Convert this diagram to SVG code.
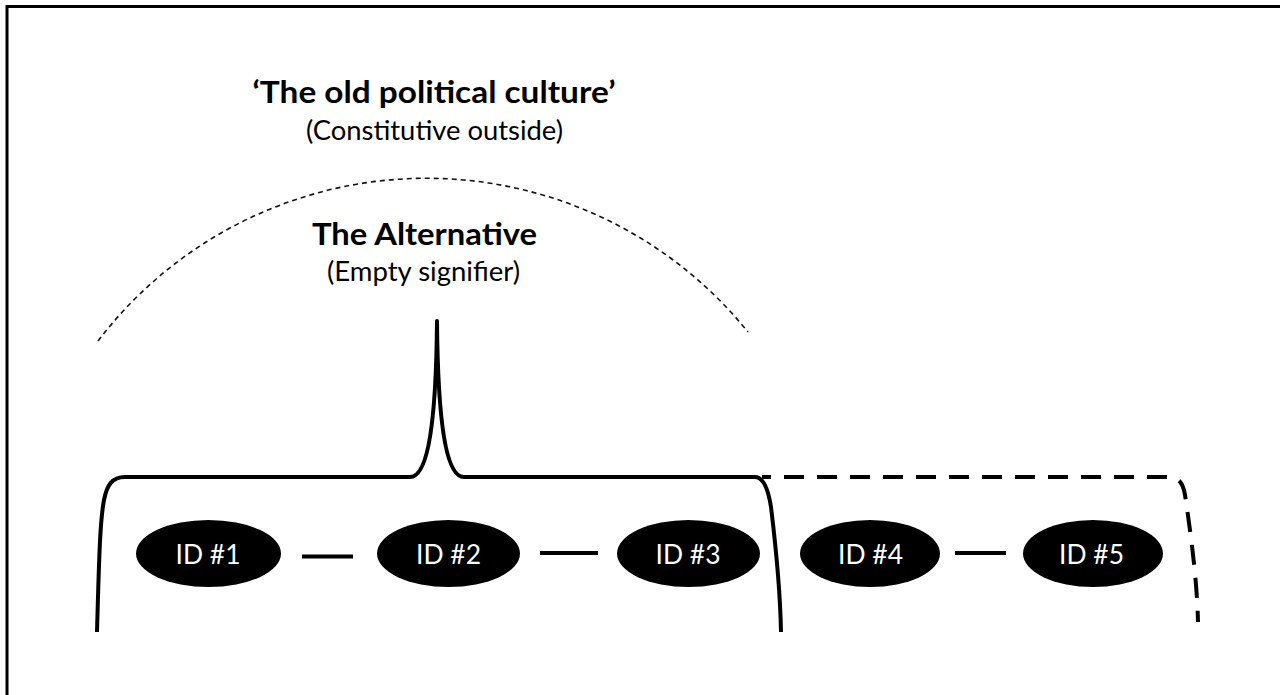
<svg xmlns="http://www.w3.org/2000/svg" width="1280" height="695" viewBox="0 0 1280 695">
  <style>
    .frame { fill: none; stroke: #000; stroke-width: 3; }
    .arc { fill: none; stroke: #111; stroke-width: 1.6; stroke-dasharray: 5 4; }
    .bracket { fill: none; stroke: #000; stroke-width: 4; stroke-linejoin: round; }
    .bracket-open { fill: none; stroke: #000; stroke-width: 4; stroke-dasharray: 20 13; stroke-dashoffset: 11; }
    .link { stroke: #000; stroke-width: 4; }
    .node ellipse { fill: #000; }
    .node text { fill: #fff; font-family: Lato, "Open Sans", "Liberation Sans", sans-serif; font-size: 27px; text-anchor: middle; }
    .head { font-family: Lato, "Open Sans", "Liberation Sans", sans-serif; font-weight: bold; font-size: 31px; text-anchor: middle; fill: #000; }
    .sub { font-family: Lato, "Open Sans", "Liberation Sans", sans-serif; font-size: 26px; text-anchor: middle; fill: #000; }
  </style>

  <rect width="1280" height="695" fill="#fff"/>
  <!-- outer frame, cut off on the right and at the bottom -->
  <path class="frame" d="M7,695 V6.5 H1280"/>

  <!-- outside field and its labels -->
  <g id="outside">
    <text class="head" x="434" y="103" textLength="363" lengthAdjust="spacingAndGlyphs">‘The old political culture’</text>
    <text class="sub" x="434.5" y="140" textLength="257" lengthAdjust="spacingAndGlyphs">(Constitutive outside)</text>
    <path class="arc" d="M98,341 A413,413 0 0 1 748,332"/>
  </g>

  <!-- empty signifier label -->
  <g id="alternative">
    <text class="head" x="424.5" y="245" textLength="225" lengthAdjust="spacingAndGlyphs">The Alternative</text>
    <text class="sub" x="423.5" y="281" textLength="193" lengthAdjust="spacingAndGlyphs">(Empty signifier)</text>
  </g>

  <!-- brackets grouping the identities -->
  <g id="brackets">
    <path class="bracket" d="M97,632 C99,560 100,520 104,500 C107,485 112,477 125,477 H410 C425,477 436,440 437,321 C438,440 449,477 464,477 H755 C763,477 768,488 771,507 C775,540 780,580 781,632"/>
    <path class="bracket-open" d="M762,477 H1168 C1178,477 1183,482 1185,495 C1191,535 1197,580 1198,622"/>
  </g>

  <!-- chain links between identities -->
  <g id="connectors">
    <line class="link" x1="302" y1="556.5" x2="353" y2="556.5"/>
    <line class="link" x1="540" y1="553" x2="598" y2="553"/>
    <line class="link" x1="955" y1="553" x2="1006" y2="553"/>
  </g>

  <g id="id1" class="node">
    <ellipse cx="208.5" cy="553.5" rx="72.5" ry="33.5"/>
    <text x="208" y="564" textLength="65" lengthAdjust="spacingAndGlyphs">ID #1</text>
  </g>
  <g id="id2" class="node">
    <ellipse cx="448.5" cy="553.5" rx="71.5" ry="33.5"/>
    <text x="448.5" y="564" textLength="65" lengthAdjust="spacingAndGlyphs">ID #2</text>
  </g>
  <g id="id3" class="node">
    <ellipse cx="688.5" cy="553.5" rx="71.5" ry="33.5"/>
    <text x="688" y="564" textLength="65" lengthAdjust="spacingAndGlyphs">ID #3</text>
  </g>
  <g id="id4" class="node">
    <ellipse cx="870" cy="553.5" rx="70" ry="33.5"/>
    <text x="870.5" y="564" textLength="65" lengthAdjust="spacingAndGlyphs">ID #4</text>
  </g>
  <g id="id5" class="node">
    <ellipse cx="1093" cy="553.5" rx="70" ry="33.5"/>
    <text x="1091.5" y="564" textLength="65" lengthAdjust="spacingAndGlyphs">ID #5</text>
  </g>
</svg>
